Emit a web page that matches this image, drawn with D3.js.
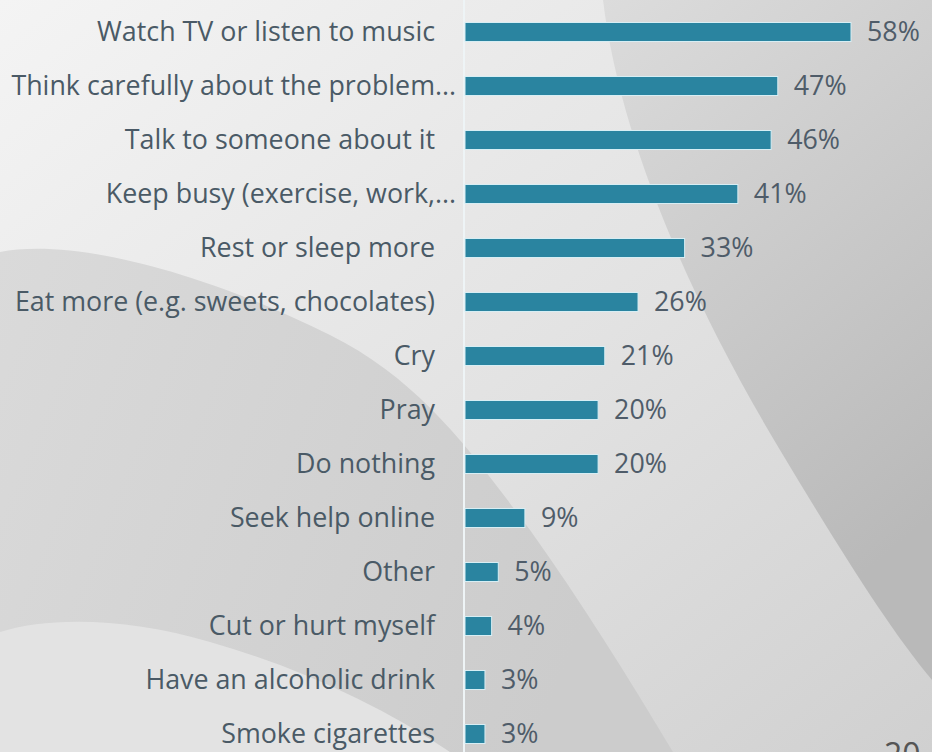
<!DOCTYPE html>
<html>
<head>
<meta charset="utf-8">
<script src="https://cdn.jsdelivr.net/npm/d3@7"></script>
<style>
  html, body { margin: 0; padding: 0; background: #e6e6e6; }
  svg { display: block; }
</style>
</head>
<body>
<div id="chart"></div>
<script>
const categories = [
  "Watch TV or listen to music",
  "Think carefully about the problem...",
  "Talk to someone about it",
  "Keep busy (exercise, work,...",
  "Rest or sleep more",
  "Eat more (e.g. sweets, chocolates)",
  "Cry",
  "Pray",
  "Do nothing",
  "Seek help online",
  "Other",
  "Cut or hurt myself",
  "Have an alcoholic drink",
  "Smoke cigarettes",
]
const values = [58, 47, 46, 41, 33, 26, 21, 20, 20, 9, 5, 4, 3, 3]
const valueLabels = values.map(v => v + "%")
const pageNumber = "20"

function draw() {
  const dimensions = {
    width: 932,
    height: 752,
    margin: { top: 32, left: 465, bottom: 18, right: 81 },
  }
  dimensions.ctrWidth = dimensions.width - dimensions.margin.left - dimensions.margin.right
  dimensions.ctrHeight = dimensions.height - dimensions.margin.top - dimensions.margin.bottom

  const font = "'Open Sans', 'Noto Sans', sans-serif"
  const barHeight = 19

  const svg = d3
    .select("#chart")
    .append("svg")
    .attr("width", dimensions.width)
    .attr("height", dimensions.height)

  // background swooshes
  const defs = svg.append("defs")
  const bg = defs.append("linearGradient").attr("id", "bg")
    .attr("x1", 0).attr("y1", 0).attr("x2", 1).attr("y2", 1)
  bg.append("stop").attr("offset", "0%").attr("stop-color", "#f4f4f4")
  bg.append("stop").attr("offset", "55%").attr("stop-color", "#e2e2e2")
  bg.append("stop").attr("offset", "100%").attr("stop-color", "#d0d0d0")

  const right = defs.append("linearGradient").attr("id", "rightGrad")
    .attr("x1", 0).attr("y1", 0).attr("x2", 0.4).attr("y2", 1)
  right.append("stop").attr("offset", "0%").attr("stop-color", "#dcdcdc")
  right.append("stop").attr("offset", "100%").attr("stop-color", "#b9b9b9")

  const left = defs.append("linearGradient").attr("id", "leftGrad")
    .attr("x1", 0).attr("y1", 0).attr("x2", 1).attr("y2", 0.3)
  left.append("stop").attr("offset", "0%").attr("stop-color", "#dadada")
  left.append("stop").attr("offset", "100%").attr("stop-color", "#cccccc")

  svg.append("rect")
    .attr("width", dimensions.width)
    .attr("height", dimensions.height)
    .attr("fill", "url(#bg)")

  svg.append("path")
    .attr("d", "M603,0 C620,140 690,300 780,450 C840,550 890,630 932,680 L932,0 Z")
    .attr("fill", "url(#rightGrad)")

  svg.append("path")
    .attr("d", "M0,252 C70,238 200,270 330,335 C420,380 470,450 530,530 C580,600 630,680 673,752 L0,752 Z")
    .attr("fill", "url(#leftGrad)")

  svg.append("path")
    .attr("d", "M0,632 C50,616 130,618 210,642 C300,668 380,705 450,752 L0,752 Z")
    .attr("fill", "#e3e3e3")

  const ctr = svg.append("g")

  const xScale = d3
    .scaleLinear()
    .domain([0, d3.max(values)])
    .range([dimensions.margin.left, dimensions.margin.left + 386])

  const yScale = d3
    .scalePoint()
    .domain(categories)
    .range([dimensions.margin.top, dimensions.height - dimensions.margin.bottom])

  // axis line
  ctr.append("line")
    .attr("x1", xScale(0) - 1)
    .attr("x2", xScale(0) - 1)
    .attr("y1", 0)
    .attr("y2", dimensions.height)
    .attr("stroke", "#eef4f6")
    .attr("stroke-width", 2)

  // fit font size to the reference label width
  const probe = svg.append("text").attr("font-family", font).attr("font-size", 20)
    .text(categories[0])
  const fontSize = 20 * 338 / probe.node().getComputedTextLength()
  probe.text("...").attr("font-size", fontSize)
  const dotsWidth = probe.node().getComputedTextLength()
  probe.remove()

  // Draw the bars
  ctr
    .selectAll("rect.bar")
    .data(values)
    .join("rect")
    .attr("class", "bar")
    .attr("x", xScale(0))
    .attr("y", (d, i) => yScale(categories[i]) - barHeight / 2)
    .attr("width", d => xScale(d) - xScale(0))
    .attr("height", barHeight)
    .attr("fill", "#2a84a0")
    .attr("stroke", "#d7eef4")
    .attr("stroke-width", 1)

  // category labels
  ctr
    .selectAll("text.cat")
    .data(categories)
    .join("text")
    .attr("class", "cat")
    .attr("x", d => (d.endsWith("...") ? 435 + dotsWidth : 435))
    .attr("y", d => yScale(d))
    .attr("dy", "0.35em")
    .attr("text-anchor", "end")
    .attr("font-family", font)
    .attr("font-size", fontSize)
    .attr("fill", "#4a5a66")
    .text(d => d)

  // value labels
  ctr
    .selectAll("text.val")
    .data(values)
    .join("text")
    .attr("class", "val")
    .attr("x", d => xScale(d) + 16)
    .attr("y", (d, i) => yScale(categories[i]))
    .attr("dy", "0.35em")
    .attr("font-family", font)
    .attr("font-size", fontSize)
    .attr("fill", "#4f5c69")
    .text((d, i) => valueLabels[i])

  // slide number, cut off at the bottom edge
  svg.append("text")
    .attr("x", 884)
    .attr("y", 766)
    .attr("font-family", font)
    .attr("font-size", 32)
    .attr("fill", "#555")
    .text(pageNumber)
}

draw()
</script>
</body>
</html>
